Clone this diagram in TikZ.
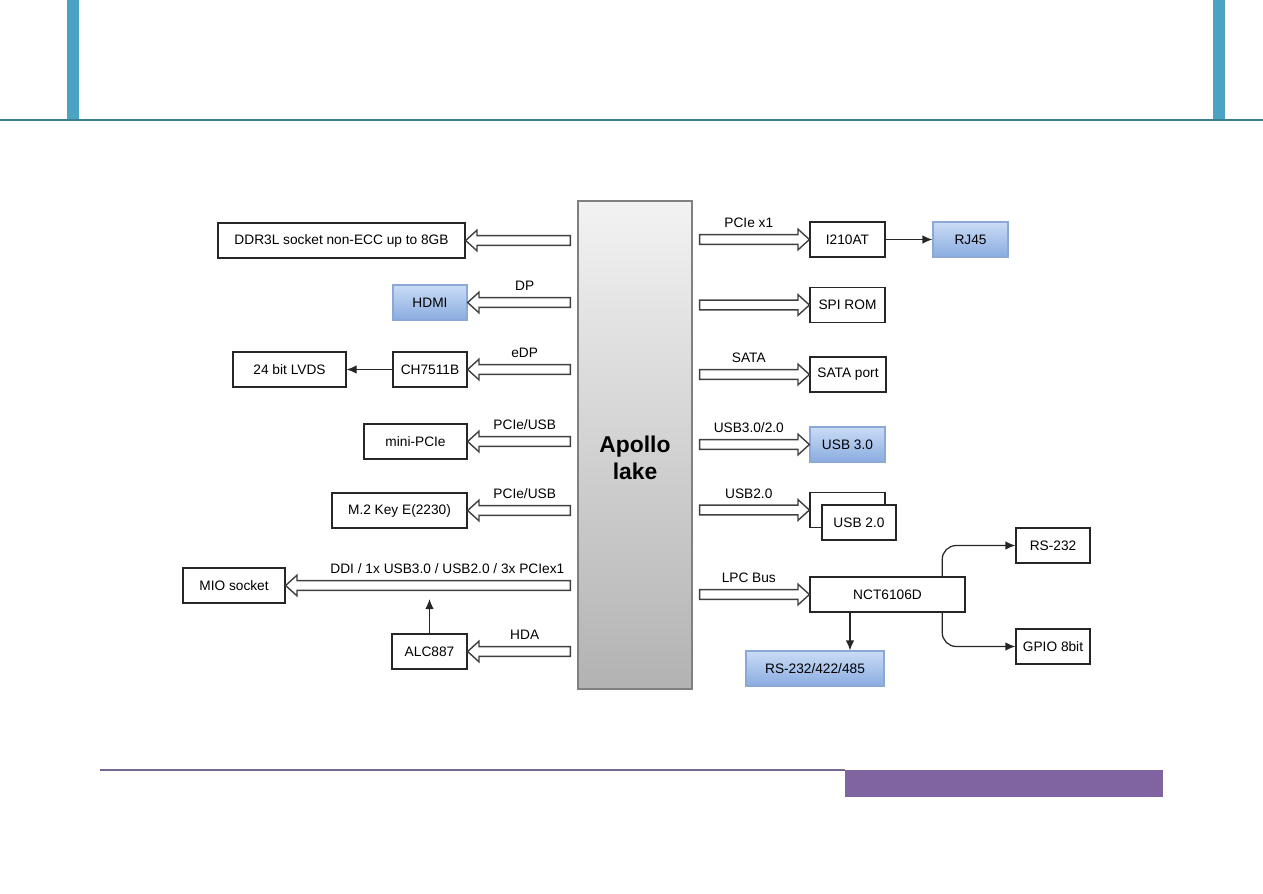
\documentclass[tikz,border=0pt]{standalone}
\usepackage{fontspec}
\setmainfont{Liberation Sans}
\usetikzlibrary{arrows.meta,calc,positioning}
\definecolor{framebar}{RGB}{75,163,196}
\definecolor{frameline}{RGB}{60,125,145}
\definecolor{footline}{RGB}{120,105,145}
\definecolor{footbox}{RGB}{128,100,162}
\definecolor{bluetop}{RGB}{202,220,246}
\definecolor{bluebot}{RGB}{138,172,224}
\definecolor{blueedge}{RGB}{140,168,215}
\definecolor{socedge}{RGB}{128,128,128}
\tikzset{
  block/.style={draw=black!85,line width=0.7pt,fill=white,minimum height=0.7cm,
    inner sep=1pt,font=\fontsize{7.8}{9}\selectfont},
  boxw/.style={minimum width=#1*0.02cm},
  blueblock/.style={block,draw=blueedge,top color=bluetop,bottom color=bluebot},
  soc/.style={draw=socedge,line width=0.7pt,top color=black!5,bottom color=black!30},
  fatarrow/.style={draw=black!75,line width=0.8pt,fill=white,
    to path={let \p1=(\tikztostart),\p2=(\tikztotarget),\n1={sign(\x2-\x1)} in
      (\x1+\n1*4pt,\y1+2.8pt) -- (\x2-\n1*6.5pt,\y1+2.8pt) \tikztonodes
      -- (\x2-\n1*6.5pt,\y1+5.9pt) -- (\x2,\y1) -- (\x2-\n1*6.5pt,\y1-5.9pt)
      -- (\x2-\n1*6.5pt,\y1-2.8pt) -- (\x1+\n1*4pt,\y1-2.8pt) -- cycle}},
  buslabel/.style={anchor=base,yshift=4pt,inner sep=0pt,font=\fontsize{7.8}{9}\selectfont},
  thinarrow/.style={-{Latex[length=2mm,width=1.7mm]},line width=0.7pt,black!85}
}

\begin{document}
\begin{tikzpicture}[x=0.02cm,y=-0.02cm]
  \useasboundingbox (0,0) rectangle (1263,893);
  % page frame
  \fill[framebar] (67,0) rectangle (79,120);
  \fill[framebar] (1213,0) rectangle (1225,120);
  \draw[frameline,line width=1.2pt] (0,120) -- (1263,120);
  \draw[footline,line width=0.9pt] (100,770) -- (845,770);
  \fill[footbox] (845,770) rectangle (1163,797);

  % SoC
  \node[soc,minimum width=114*0.02cm,minimum height=488*0.02cm,
    label={[yshift=-7.5pt,align=center,font=\fontsize{13}{15.3}\selectfont\bfseries]center:Apollo\\lake}]
    (apollo) at (635,445) {};

  % left side
  \node[block,boxw=247] (ddr) at (341.5,240.5) {DDR3L socket non-ECC up to 8GB};
  \node[blueblock,boxw=74] (hdmi) at (430,302.5) {HDMI};
  \node[block,boxw=74] (ch) at (430,369.5) {CH7511B};
  \node[block,boxw=113] (lvds) at (289.5,369.5) {24 bit LVDS};
  \node[block,boxw=103] (minipcie) at (415.5,441.5) {mini-PCIe};
  \node[block,boxw=135] (mtwo) at (399.5,510.5) {M.2 Key E(2230)};
  \node[block,boxw=102] (mio) at (234,585.5) {MIO socket};
  \node[block,boxw=75] (alc) at (429.5,651.5) {ALC887};
  \coordinate (alctip) at (429.5,599);

  % right side
  \node[block,boxw=75] (i210) at (847.5,239.5) {I210AT};
  \node[blueblock,boxw=75] (rj) at (970.5,239.5) {RJ45};
  \node[block,boxw=75] (spi) at (847.5,305) {SPI ROM};
  \node[block,boxw=76] (sata) at (848,374.5) {SATA port};
  \node[blueblock,boxw=75] (usbthree) at (847.5,444.5) {USB 3.0};
  \node[block,boxw=75] (usbback) at (847.5,510) {};
  \node[block,boxw=74] (usbtwo) at (859,522.5) {USB 2.0};
  \node[block,boxw=155] (nct) at (887.5,594.5) {NCT6106D};
  \node[block,boxw=74] (rsa) at (1053,545.5) {RS-232};
  \node[block,boxw=74] (gpio) at (1053,646.5) {GPIO 8bit};
  \node[blueblock,boxw=138] (rsb) at (815,668.5) {RS-232/422/485};
  \coordinate (nctdown) at ($(nct.south west)!0.26!(nct.south east)$);
  \coordinate (nctup) at ($(nct.north west)!0.85!(nct.north east)$);
  \coordinate (nctlow) at ($(nct.south west)!0.85!(nct.south east)$);

  % buses
  \draw[fatarrow] (apollo.west |- ddr) to (ddr.east);
  \draw[fatarrow] (apollo.west |- hdmi) to node[buslabel] {DP} (hdmi.east);
  \draw[fatarrow] (apollo.west |- ch) to node[buslabel] {eDP} (ch.east);
  \draw[fatarrow] (apollo.west |- minipcie) to node[buslabel] {PCIe/USB} (minipcie.east);
  \draw[fatarrow] (apollo.west |- mtwo) to node[buslabel] {PCIe/USB} (mtwo.east);
  \draw[fatarrow] (apollo.west |- mio) to node[buslabel,pos=0.45] {DDI / 1x USB3.0 / USB2.0 / 3x PCIex1} (mio.east);
  \draw[fatarrow] (apollo.west |- alc) to node[buslabel] {HDA} (alc.east);
  \draw[fatarrow] (apollo.east |- i210) to node[buslabel] {PCIe x1} (i210.west);
  \draw[fatarrow] (apollo.east |- spi) to (spi.west);
  \draw[fatarrow] (apollo.east |- sata) to node[buslabel] {SATA} (sata.west);
  \draw[fatarrow] (apollo.east |- usbthree) to node[buslabel] {USB3.0/2.0} (usbthree.west);
  \draw[fatarrow] (apollo.east |- usbback) to node[buslabel] {USB2.0} (usbback.west);
  \draw[fatarrow] (apollo.east |- nct) to node[buslabel] {LPC Bus} (nct.west);

  % thin links
  \draw[thinarrow] (ch) -- (lvds);
  \draw[thinarrow] (alc) -- (alctip);
  \draw[thinarrow] (i210) -- (rj);
  \draw[thinarrow] (nctdown) -- (nctdown |- rsb.north);
  \draw[thinarrow,rounded corners=8pt] (nctup) |- (rsa.west);
  \draw[thinarrow,rounded corners=8pt] (nctlow) |- (gpio.west);
\end{tikzpicture}
\end{document}
